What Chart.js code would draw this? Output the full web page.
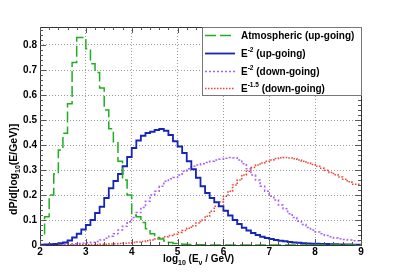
<!DOCTYPE html>
<html>
<head>
<meta charset="utf-8">
<script src="https://cdn.jsdelivr.net/npm/chart.js@4/dist/chart.umd.min.js"></script>
<style>
  html, body { margin: 0; padding: 0; background: #fff; }
  canvas { display: block; }
</style>
</head>
<body>
<canvas id="myChart" width="402" height="272"></canvas>
<script>
// histogram bins: 0.1 wide, from log10(E/GeV) = 2 to 9
var binStart = 2;
var binWidth = 0.1;
var xTicks = [2, 3, 4, 5, 6, 7, 8, 9];
var yTicks = [0, 0.1, 0.2, 0.3, 0.4, 0.5, 0.6, 0.7, 0.8];

var atmUp = [
  0.0, 0.04, 0.113, 0.2, 0.284, 0.38, 0.447, 0.565, 0.73, 0.83,
  0.83, 0.785, 0.725, 0.69, 0.628, 0.54, 0.465, 0.413, 0.335, 0.26,
  0.2, 0.12, 0.113, 0.09, 0.065, 0.045, 0.03, 0.024, 0.016, 0.01,
  0.006, 0.004, 0.003, 0.002, 0.002, 0.001, 0.001, 0.001, 0.0, 0.0,
  0.0, 0.0, 0.0, 0.0, 0.0, 0.0, 0.0, 0.0, 0.0, 0.0,
  0.0, 0.0, 0.0, 0.0, 0.0, 0.0, 0.0, 0.0, 0.0, 0.0,
  0.0, 0.0, 0.0, 0.0, 0.0, 0.0, 0.0, 0.0, 0.0, 0.0
];
var e2Up = [
  0.001, 0.001, 0.002, 0.003, 0.004, 0.007, 0.01, 0.018, 0.03, 0.045,
  0.062, 0.08, 0.1, 0.128, 0.153, 0.188, 0.227, 0.256, 0.284, 0.315,
  0.352, 0.388, 0.418, 0.437, 0.448, 0.453, 0.46, 0.464, 0.457, 0.44,
  0.415, 0.394, 0.368, 0.335, 0.303, 0.269, 0.235, 0.208, 0.188, 0.171,
  0.155, 0.137, 0.118, 0.1, 0.084, 0.069, 0.058, 0.048, 0.04, 0.033,
  0.028, 0.024, 0.02, 0.017, 0.015, 0.012, 0.01, 0.009, 0.007, 0.006,
  0.005, 0.005, 0.004, 0.004, 0.003, 0.003, 0.002, 0.002, 0.002, 0.001
];
var e2Down = [
  0.001, 0.001, 0.001, 0.002, 0.002, 0.003, 0.003, 0.004, 0.005, 0.006,
  0.007, 0.009, 0.011, 0.014, 0.02, 0.027, 0.035, 0.045, 0.06, 0.075,
  0.093, 0.11, 0.13, 0.15, 0.175, 0.2, 0.215, 0.235, 0.255, 0.265,
  0.27, 0.28, 0.295, 0.305, 0.315, 0.32, 0.325, 0.33, 0.335, 0.34,
  0.343, 0.347, 0.35, 0.349, 0.34, 0.325, 0.305, 0.28, 0.26, 0.235,
  0.215, 0.195, 0.18, 0.16, 0.145, 0.125, 0.11, 0.095, 0.082, 0.07,
  0.06, 0.052, 0.045, 0.038, 0.033, 0.028, 0.025, 0.022, 0.02, 0.017
];
var e15Down = [
  0.001, 0.001, 0.001, 0.001, 0.001, 0.001, 0.001, 0.001, 0.001, 0.001,
  0.001, 0.001, 0.002, 0.002, 0.003, 0.003, 0.004, 0.005, 0.006, 0.007,
  0.008, 0.01, 0.012, 0.014, 0.017, 0.02, 0.024, 0.028, 0.033, 0.038,
  0.043, 0.05, 0.058, 0.067, 0.077, 0.088, 0.1, 0.115, 0.135, 0.155,
  0.172, 0.195, 0.215, 0.24, 0.26, 0.28, 0.295, 0.31, 0.32, 0.328,
  0.335, 0.34, 0.346, 0.349, 0.35, 0.348, 0.345, 0.34, 0.335, 0.328,
  0.322, 0.315, 0.307, 0.299, 0.29, 0.281, 0.272, 0.263, 0.253, 0.243
];

var legendLabels = [
  { text: "Atmospheric (up-going)", sup: "", rest: "" },
  { text: "E", sup: "-2", rest: " (up-going)" },
  { text: "E", sup: "-2", rest: " (down-going)" },
  { text: "E", sup: "-1.5", rest: " (down-going)" }
];

var FONT = '"Liberation Sans", Arial, Helvetica, sans-serif';

// turn bin contents into step points (left edge of each bin + closing edge)
function toSteps(values) {
  var pts = values.map(function(v, i) {
    return { x: +(binStart + i * binWidth).toFixed(2), y: v };
  });
  pts.push({ x: +(binStart + values.length * binWidth).toFixed(2), y: values[values.length - 1] });
  return pts;
}

var chartData = {
  datasets: [
    {
      label: "Atmospheric (up-going)",
      data: toSteps(atmUp),
      borderColor: "#1fae1f",
      borderWidth: 1.5,
      borderDash: [11, 4],
      stepped: "after",
      pointRadius: 0,
      fill: false
    },
    {
      label: "E-2 (up-going)",
      data: toSteps(e2Up),
      borderColor: "#1525b5",
      borderWidth: 1.8,
      stepped: "after",
      pointRadius: 0,
      fill: false
    },
    {
      label: "E-2 (down-going)",
      data: toSteps(e2Down),
      borderColor: "#a860fa",
      borderWidth: 1.6,
      borderDash: [2, 2],
      stepped: "after",
      pointRadius: 0,
      fill: false
    },
    {
      label: "E-1.5 (down-going)",
      data: toSteps(e15Down),
      borderColor: "#ee4535",
      borderWidth: 1.6,
      borderDash: [1.5, 1.5],
      stepped: "after",
      pointRadius: 0,
      fill: false
    }
  ]
};

// draws text pieces with sub/superscripts, returns end x
function drawRich(ctx, parts, x, y) {
  parts.forEach(function(p) {
    ctx.font = "bold " + p.size + "px " + FONT;
    ctx.fillText(p.t, x, y + (p.dy || 0));
    x += ctx.measureText(p.t).width;
  });
  return x;
}

var decorPlugin = {
  id: "decor",
  afterDraw: function(chart) {
    var ctx = chart.ctx;
    var a = chart.chartArea;
    var xs = chart.scales.x, ys = chart.scales.y;
    ctx.save();

    // frame
    ctx.strokeStyle = "#333";
    ctx.lineWidth = 1;
    ctx.strokeRect(Math.round(a.left) + 0.5, Math.round(a.top) + 0.5,
      Math.round(a.right - a.left), Math.round(a.bottom - a.top));

    // ticks inside the frame, major and minor
    ctx.strokeStyle = "#555";
    ctx.beginPath();
    for (var i = 0; i <= 43; i++) {
      var v = i * 0.02;
      var py = Math.round(ys.getPixelForValue(v)) + 0.5;
      if (py < a.top) break;
      var len = (i % 5 === 0) ? 6 : 3;
      ctx.moveTo(a.left, py); ctx.lineTo(a.left + len, py);
      ctx.moveTo(a.right, py); ctx.lineTo(a.right - len, py);
    }
    for (var j = 0; j <= 35; j++) {
      var xv = 2 + j * 0.2;
      var px = Math.round(xs.getPixelForValue(xv)) + 0.5;
      var lx = (j % 5 === 0) ? 6 : 3;
      ctx.moveTo(px, a.bottom); ctx.lineTo(px, a.bottom - lx);
      ctx.moveTo(px, a.top); ctx.lineTo(px, a.top + lx);
    }
    ctx.stroke();

    // legend box
    var lx0 = 202, ly0 = 27, lx1 = 361, ly1 = 95;
    ctx.fillStyle = "#fff";
    ctx.fillRect(lx0, ly0, lx1 - lx0, ly1 - ly0);
    ctx.strokeStyle = "#777";
    ctx.strokeRect(lx0 + 0.5, ly0 + 0.5, lx1 - lx0, ly1 - ly0);
    var rows = [35, 53, 71, 88];
    chart.data.datasets.forEach(function(ds, k) {
      var ry = rows[k];
      ctx.strokeStyle = ds.borderColor;
      ctx.lineWidth = ds.borderWidth;
      ctx.setLineDash(ds.borderDash || []);
      ctx.beginPath();
      ctx.moveTo(205, ry + 0.5);
      ctx.lineTo(235, ry + 0.5);
      ctx.stroke();
      ctx.setLineDash([]);
      ctx.fillStyle = "#000";
      ctx.textBaseline = "middle";
      ctx.textAlign = "left";
      var lab = legendLabels[k];
      drawRich(ctx, [
        { t: lab.text, size: 10 },
        { t: lab.sup, size: 6.5, dy: -4 },
        { t: lab.rest, size: 10 }
      ], 241, ry + 1);
    });

    // x title
    ctx.fillStyle = "#000";
    ctx.textBaseline = "alphabetic";
    ctx.textAlign = "left";
    drawRich(ctx, [
      { t: "log", size: 10 },
      { t: "10", size: 7, dy: 3 },
      { t: " (E", size: 10 },
      { t: "\u03bd", size: 7, dy: 3 },
      { t: " / GeV)", size: 10 }
    ], 163, 262);

    // y title, rotated
    ctx.translate(17, 215);
    ctx.rotate(-Math.PI / 2);
    drawRich(ctx, [
      { t: "dP/d[log", size: 10.5 },
      { t: "10", size: 7, dy: 3 },
      { t: "(E/GeV)]", size: 10.5 }
    ], 0, 0);

    ctx.restore();
  }
};

var config = {
  type: "line",
  data: chartData,
  options: {
    responsive: false,
    animation: false,
    devicePixelRatio: 1,
    layout: { padding: { left: 0, top: 27, right: 41, bottom: 0 } },
    plugins: {
      legend: { display: false },
      tooltip: { enabled: false }
    },
    scales: {
      x: {
        type: "linear",
        min: 2,
        max: 9,
        afterFit: function(s) { s.height = 27; },
        afterBuildTicks: function(s) {
          s.ticks = xTicks.map(function(v) { return { value: v }; });
        },
        grid: { color: "#9a9a9a", lineWidth: 1, drawTicks: false },
        border: { display: false, dash: [1, 2] },
        ticks: {
          padding: 1,
          color: "#000",
          font: { family: FONT, size: 10, weight: "bold" }
        }
      },
      y: {
        min: 0,
        max: 0.872,
        afterFit: function(s) { s.width = 40; },
        afterBuildTicks: function(s) {
          s.ticks = yTicks.map(function(v) { return { value: v }; });
        },
        grid: { color: "#9a9a9a", lineWidth: 1, drawTicks: false },
        border: { display: false, dash: [1, 2] },
        ticks: {
          padding: 3,
          color: "#000",
          font: { family: FONT, size: 10, weight: "bold" },
          callback: function(v) { return String(+v.toFixed(1)); }
        }
      }
    }
  },
  plugins: [decorPlugin]
};

const myChart = new Chart(document.getElementById("myChart"), config);
</script>
</body>
</html>
